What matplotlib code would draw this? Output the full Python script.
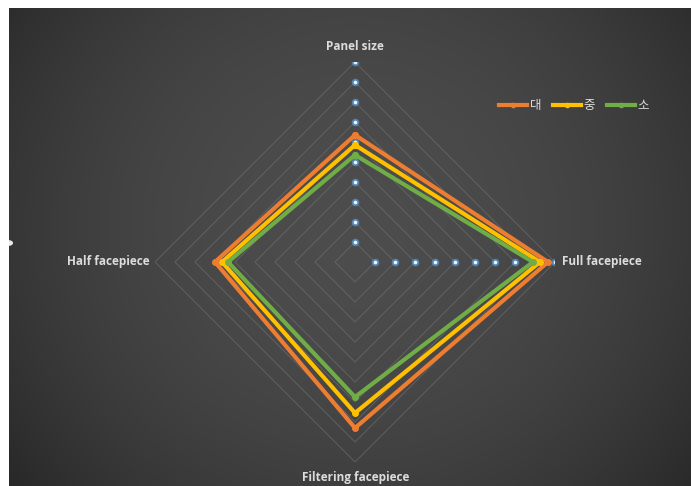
import numpy as np
import matplotlib
matplotlib.use("Agg")
import matplotlib.pyplot as plt
from matplotlib.lines import Line2D

# radar categories, clockwise from top
categories = ["Panel size", "Full facepiece", "Filtering facepiece", "Half facepiece"]
series_names = ["대", "중", "소"]
values_dae = [6.35, 9.65, 8.3, 7.0]
values_jung = [5.85, 9.25, 7.55, 6.65]
values_so = [5.35, 8.9, 6.75, 6.35]
ticks = [1, 2, 3, 4, 5, 6, 7, 8, 9, 10]

colors = ["#ED7D31", "#FFC000", "#70AD47"]
text_col = "#dcdcdc"

W, H = 691, 486
fig = plt.figure(figsize=(W / 100, H / 100), dpi=100)
fig.patch.set_facecolor("white")

# dark background with soft radial gradient
bg = fig.add_axes([9 / W, 0, (W - 9) / W, (H - 8) / H])
yy, xx = np.mgrid[0:1:300j, 0:1:400j]
d = ((xx - 0.51) / 0.62) ** 2 + ((yy - 0.45) / 0.85) ** 2
shade = np.clip(0.30 - 0.13 * d, 0.16, 0.30)
bg.imshow(np.dstack([shade] * 3), extent=[0, 1, 0, 1], aspect="auto", origin="upper")
bg.set_xlim(0, 1)
bg.set_ylim(0, 1)
bg.axis("off")
# selection handle glow at left edge
fig.patches.append(plt.Circle((9 / W, 1 - 243 / H), 4 / W, transform=fig.transFigure,
                              facecolor="white", edgecolor="none", alpha=0.9))

# radar axes: center at (355, 262) px, radius 200 px
cx, cy, R = 355, 262, 200
ax = fig.add_axes([(cx - R) / W, (H - cy - R) / H, 2 * R / W, 2 * R / H], projection="polar")
ax.set_theta_zero_location("N")
ax.set_theta_direction(-1)
ax.patch.set_alpha(0)
ax.spines["polar"].set_visible(False)
ax.grid(False)
ax.set_xticks([])
ax.set_yticks([])
ax.set_ylim(0, 10)

angles = np.arange(len(categories)) * 2 * np.pi / len(categories)
closed = np.append(angles, angles[0])

# polygon gridlines
for t in ticks:
    ax.plot(closed, [t] * len(closed), color="#737373", lw=0.7, alpha=0.6, zorder=1)

# dotted axis markers on the top and right spokes
for a in angles[:2]:
    ax.scatter([a] * len(ticks), ticks, s=30, color="#5b9bd5", alpha=0.7, lw=0, zorder=2)
    ax.scatter([a] * len(ticks), ticks, s=7, color="#eaf4ff", lw=0, zorder=2)

for vals, c in zip([values_dae, values_jung, values_so], colors):
    v = np.append(vals, vals[0])
    ax.plot(closed, v, color=c, lw=3, marker="o", ms=4, zorder=3)

# category labels
fs = 8.5
fam = ["Open Sans", "Noto Sans CJK KR"]
kw = dict(va="center", color=text_col, fontsize=fs, fontweight="bold", family=fam)
fig.text(355 / W, 1 - 46 / H, categories[0], ha="center", **kw)
fig.text(562 / W, 1 - 262 / H, categories[1], ha="left", **kw)
fig.text(356 / W, 1 - 477 / H, categories[2], ha="center", **kw)
fig.text(150 / W, 1 - 262 / H, categories[3], ha="right", **kw)

handles = [Line2D([], [], color=c, lw=3, marker="o", ms=3) for c in colors]
leg = fig.legend(handles, series_names, loc="center", bbox_to_anchor=(574 / W, 1 - 106 / H),
                 ncol=3, frameon=False, handlelength=2.3, handletextpad=0.2,
                 columnspacing=0.9, prop={"family": ["Noto Sans CJK KR"], "size": 9})
for t in leg.get_texts():
    t.set_color(text_col)

fig.savefig("out.png", dpi=100, facecolor=fig.get_facecolor())
